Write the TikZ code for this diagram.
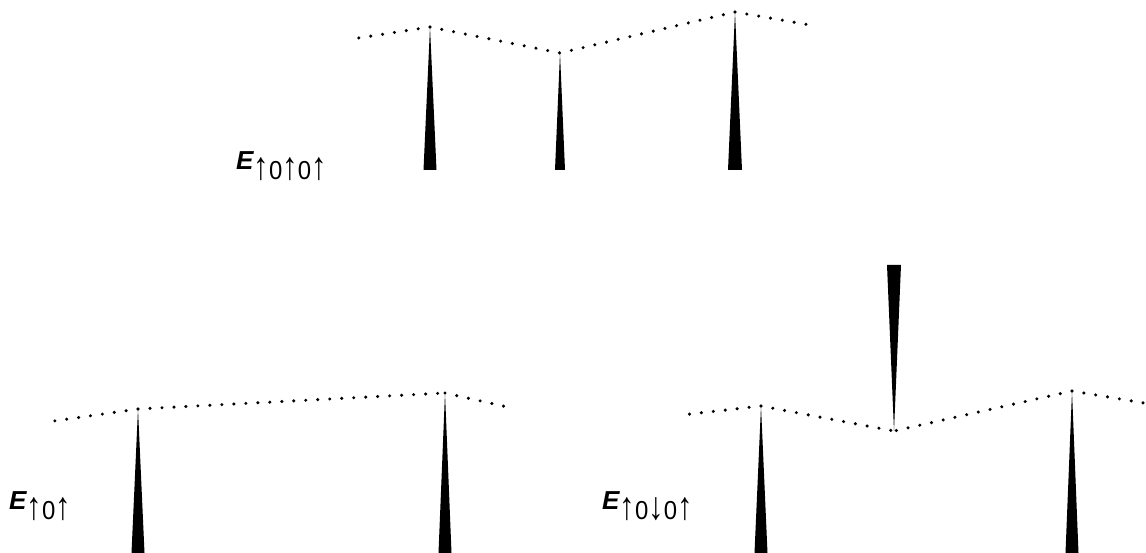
\documentclass[tikz,border=0pt]{standalone}
\usepackage{fontspec}
\usepackage{graphicx}
\setmainfont{Liberation Sans}
\newcommand{\ua}{\scalebox{1.3}[1.5]{↑}}
\newcommand{\da}{\scalebox{1.3}[1.5]{↓}}
\newcommand{\lbl}[1]{{\bfseries\itshape E}\raisebox{-10pt}{\scalebox{0.92}[1]{\fontsize{26}{26}\selectfont #1}}}
\begin{document}
\begin{tikzpicture}[x=1pt,y=-1pt,
  chain/.style={line width=3.4pt, line cap=round, dash pattern=on 0pt off 12pt},
  spike/.style={fill=black, draw=none},
  lab/.style={anchor=base west, inner sep=0pt, font=\fontsize{26}{26}\selectfont}]
\useasboundingbox (0,0) rectangle (1146,553);
% ---- top panel ----
\coordinate (L1) at (352,39);
\coordinate (P1) at (430,27);
\coordinate (V1) at (560,53);
\coordinate (P2) at (735,12);
\coordinate (R1) at (816,26);
\draw[chain] (P1) -- (L1);
\draw[chain] (P1) -- (V1);
\draw[chain] (P2) -- (V1);
\draw[chain] (P2) -- (R1);
\fill[spike] (P1) -- ([xshift=-6.5pt]P1 |- 0,170) -- ([xshift=6.5pt]P1 |- 0,170) -- cycle;
\fill[spike] (V1) -- ([xshift=-5pt]V1 |- 0,170) -- ([xshift=5pt]V1 |- 0,170) -- cycle;
\fill[spike] (P2) -- ([xshift=-7pt]P2 |- 0,170) -- ([xshift=7pt]P2 |- 0,170) -- cycle;
\node[lab] (t1) at (236,170) {\lbl{\ua0\ua0\ua}};
% ---- bottom-left panel ----
\coordinate (L2) at (54,421);
\coordinate (P3) at (138,409);
\coordinate (P4) at (445,393);
\coordinate (R2) at (512,408);
\draw[chain] (P3) -- (L2);
\draw[chain] (P3) -- (P4);
\draw[chain] (P4) -- (R2);
\fill[spike] (P3) -- ([xshift=-6.5pt]P3 |- 0,553) -- ([xshift=6.5pt]P3 |- 0,553) -- cycle;
\fill[spike] (P4) -- ([xshift=-6.5pt]P4 |- 0,553) -- ([xshift=6.5pt]P4 |- 0,553) -- cycle;
\node[lab] (t2) at (9,509) {\lbl{\ua0\ua}};
% ---- bottom-right panel ----
\coordinate (L3) at (682,415);
\coordinate (P5) at (761,406);
\coordinate (V2) at (894,431);
\coordinate (P6) at (1072,391);
\coordinate (R3) at (1144,403);
\draw[chain] (P5) -- (L3);
\draw[chain] (P5) -- (V2);
\draw[chain] (P6) -- (V2);
\draw[chain] (P6) -- (R3);
\fill[spike] (P5) -- ([xshift=-6.5pt]P5 |- 0,553) -- ([xshift=6.5pt]P5 |- 0,553) -- cycle;
\fill[spike] (P6) -- ([xshift=-6.5pt]P6 |- 0,553) -- ([xshift=6.5pt]P6 |- 0,553) -- cycle;
\fill[spike] (V2) -- ([xshift=-7pt]V2 |- 0,265) -- ([xshift=7pt]V2 |- 0,265) -- cycle;
\node[lab] (t3) at (602,509) {\lbl{\ua0\da0\ua}};
\end{tikzpicture}
\end{document}
